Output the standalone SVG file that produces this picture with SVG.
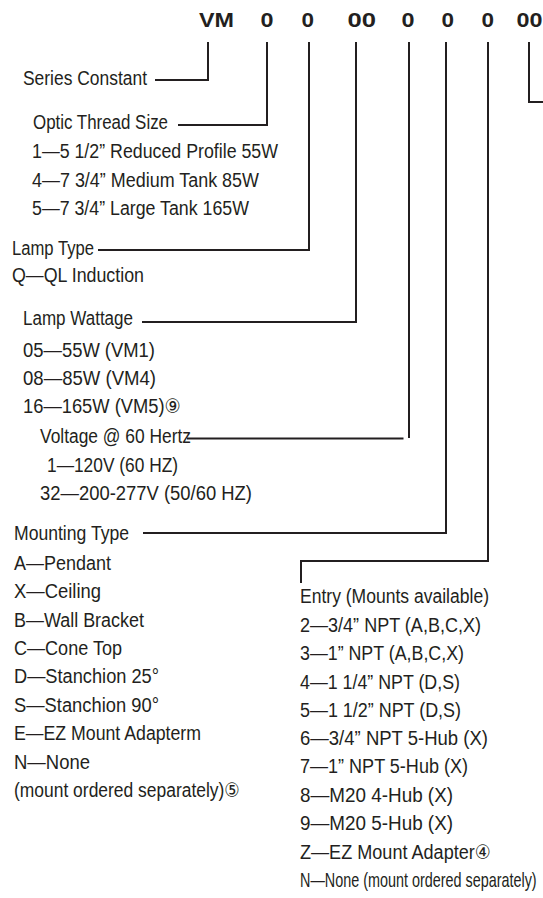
<svg xmlns="http://www.w3.org/2000/svg" width="543" height="898" viewBox="0 0 543 898">
<style>
.hd{font-family:"Liberation Sans",Arial,sans-serif;font-weight:bold;font-size:20px;fill:#231f20}
.t{font-family:"Liberation Sans Narrow","Liberation Sans","DejaVu Sans",Arial,sans-serif;font-size:20px;fill:#231f20}
.c{fill:none;stroke:#231f20;stroke-width:2}
</style>
<rect width="543" height="898" fill="#ffffff"/>
<g id="header">
<text class="hd" x="199" y="27" textLength="35" lengthAdjust="spacingAndGlyphs">VM</text>
<text class="hd" x="260.5" y="27" textLength="13" lengthAdjust="spacingAndGlyphs">0</text>
<text class="hd" x="301.5" y="27" textLength="12.5" lengthAdjust="spacingAndGlyphs">0</text>
<text class="hd" x="347.5" y="27" textLength="28.5" lengthAdjust="spacingAndGlyphs">00</text>
<text class="hd" x="401.5" y="27" textLength="13" lengthAdjust="spacingAndGlyphs">0</text>
<text class="hd" x="441.5" y="27" textLength="12.5" lengthAdjust="spacingAndGlyphs">0</text>
<text class="hd" x="481.5" y="27" textLength="12.5" lengthAdjust="spacingAndGlyphs">0</text>
<text class="hd" x="516.5" y="27" textLength="26" lengthAdjust="spacingAndGlyphs">00</text>
</g>
<g id="connectors">
<path class="c" d="M208,42 V80 H155"/>
<path class="c" d="M267,42 V125 H178"/>
<path class="c" d="M309,42 V250 H98"/>
<path class="c" d="M356,42 V322 H142"/>
<path class="c" d="M409,42 V438"/>
<path class="c" d="M403.5,438.5 H187"/>
<path class="c" d="M446,42 V533 H143"/>
<path class="c" d="M488,42 V561 H301 V583"/>
<path class="c" d="M529,42 V102 H543"/>
</g>
<g id="series-constant">
<text class="t" x="23" y="85" textLength="124" lengthAdjust="spacingAndGlyphs">Series Constant</text>
</g>
<g id="optic-thread-size">
<text class="t" x="33" y="129" textLength="135" lengthAdjust="spacingAndGlyphs">Optic Thread Size</text>
<text class="t" x="32" y="158" textLength="246" lengthAdjust="spacingAndGlyphs">1—5 1/2” Reduced Profile 55W</text>
<text class="t" x="32" y="186.5" textLength="227" lengthAdjust="spacingAndGlyphs">4—7 3/4” Medium Tank 85W</text>
<text class="t" x="32" y="215" textLength="217" lengthAdjust="spacingAndGlyphs">5—7 3/4” Large Tank 165W</text>
</g>
<g id="lamp-type">
<text class="t" x="12" y="255" textLength="82" lengthAdjust="spacingAndGlyphs">Lamp Type</text>
<text class="t" x="12" y="282" textLength="132" lengthAdjust="spacingAndGlyphs">Q—QL Induction</text>
</g>
<g id="lamp-wattage">
<text class="t" x="23" y="325" textLength="110" lengthAdjust="spacingAndGlyphs">Lamp Wattage</text>
<text class="t" x="23" y="357" textLength="132" lengthAdjust="spacingAndGlyphs">05—55W (VM1)</text>
<text class="t" x="23" y="385" textLength="133" lengthAdjust="spacingAndGlyphs">08—85W (VM4)</text>
<text class="t" x="23" y="413" textLength="158" lengthAdjust="spacingAndGlyphs">16—165W (VM5)⑨</text>
</g>
<g id="voltage">
<text class="t" x="40" y="443" textLength="151" lengthAdjust="spacingAndGlyphs">Voltage @ 60 Hertz</text>
<text class="t" x="47" y="472" textLength="131" lengthAdjust="spacingAndGlyphs">1—120V (60 HZ)</text>
<text class="t" x="40" y="500" textLength="212" lengthAdjust="spacingAndGlyphs">32—200-277V (50/60 HZ)</text>
</g>
<g id="mounting-type">
<text class="t" x="14" y="540" textLength="115" lengthAdjust="spacingAndGlyphs">Mounting Type</text>
<text class="t" x="14" y="570" textLength="97" lengthAdjust="spacingAndGlyphs">A—Pendant</text>
<text class="t" x="14" y="598" textLength="87" lengthAdjust="spacingAndGlyphs">X—Ceiling</text>
<text class="t" x="14" y="627" textLength="130" lengthAdjust="spacingAndGlyphs">B—Wall Bracket</text>
<text class="t" x="14" y="655" textLength="108" lengthAdjust="spacingAndGlyphs">C—Cone Top</text>
<text class="t" x="14" y="683" textLength="145" lengthAdjust="spacingAndGlyphs">D—Stanchion 25°</text>
<text class="t" x="14" y="712" textLength="145" lengthAdjust="spacingAndGlyphs">S—Stanchion 90°</text>
<text class="t" x="14" y="740" textLength="187" lengthAdjust="spacingAndGlyphs">E—EZ Mount Adapterm</text>
<text class="t" x="14" y="768.5" textLength="76" lengthAdjust="spacingAndGlyphs">N—None</text>
<text class="t" x="14" y="797" textLength="226" lengthAdjust="spacingAndGlyphs">(mount ordered separately)⑤</text>
</g>
<g id="entry">
<text class="t" x="300" y="603" textLength="189" lengthAdjust="spacingAndGlyphs">Entry (Mounts available)</text>
<text class="t" x="300" y="632" textLength="181" lengthAdjust="spacingAndGlyphs">2—3/4” NPT (A,B,C,X)</text>
<text class="t" x="300" y="660" textLength="164" lengthAdjust="spacingAndGlyphs">3—1” NPT (A,B,C,X)</text>
<text class="t" x="300" y="689" textLength="160" lengthAdjust="spacingAndGlyphs">4—1 1/4” NPT (D,S)</text>
<text class="t" x="300" y="717" textLength="161" lengthAdjust="spacingAndGlyphs">5—1 1/2” NPT (D,S)</text>
<text class="t" x="300" y="745" textLength="188" lengthAdjust="spacingAndGlyphs">6—3/4” NPT 5-Hub (X)</text>
<text class="t" x="300" y="773" textLength="168" lengthAdjust="spacingAndGlyphs">7—1” NPT 5-Hub (X)</text>
<text class="t" x="300" y="802" textLength="153" lengthAdjust="spacingAndGlyphs">8—M20 4-Hub (X)</text>
<text class="t" x="300" y="830" textLength="153" lengthAdjust="spacingAndGlyphs">9—M20 5-Hub (X)</text>
<text class="t" x="300" y="859" textLength="191" lengthAdjust="spacingAndGlyphs">Z—EZ Mount Adapter④</text>
<text class="t" transform="translate(300,887) scale(0.72,1)" x="0" y="0">N—None (mount ordered separately)</text>
</g>
</svg>
